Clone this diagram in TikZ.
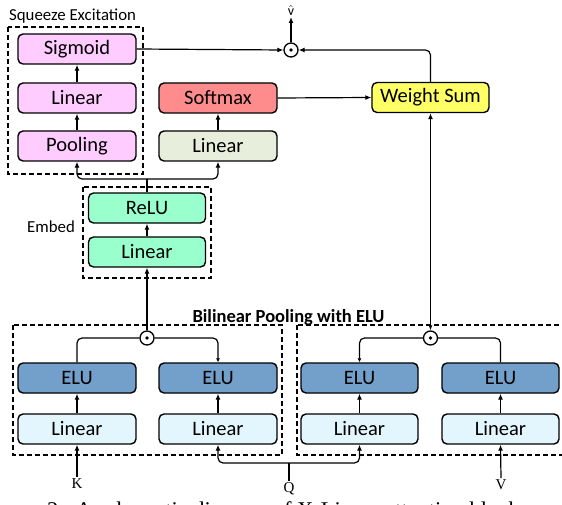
\documentclass[tikz,border=0pt]{standalone}
\usepackage{fontspec}
\setmainfont{Carlito}
\newfontfamily\serifx{Liberation Serif}
\usetikzlibrary{arrows.meta,calc}
\definecolor{sepink}{HTML}{FFCCFF}
\definecolor{softred}{HTML}{FF8C8C}
\definecolor{lingreen}{HTML}{E8EEDC}
\definecolor{mint}{HTML}{99FFCC}
\definecolor{elublue}{HTML}{739FCB}
\definecolor{lincyan}{HTML}{E3F6FD}
\definecolor{wsyellow}{HTML}{FFFF66}
\begin{document}
\begin{tikzpicture}[x=1pt,y=-1pt,
  blk/.style={draw, rounded corners=5pt, line width=1.4pt, minimum width=118pt,
    minimum height=30pt, inner sep=0pt, font=\fontsize{20.5}{24}\selectfont},
  dbox/.style={draw, line width=1.2pt, dash pattern=on 5pt off 3pt},
  odot/.style={draw, circle, line width=1.3pt, minimum size=14pt, inner sep=0pt, fill=white,
    path picture={\fill[black] (path picture bounding box.center) circle (1.8pt);}},
  arr/.style={line width=1.2pt, -{Latex[length=6pt,width=5pt]}},
  ln/.style={line width=1.2pt},
  lbl/.style={font=\serifx\fontsize{15}{18}\selectfont, inner sep=1pt},
  ttl/.style={font=\fontsize{16.8}{20}\selectfont, inner sep=0pt}
]
\useasboundingbox (0,0) rectangle (562,505);
\clip (0,0) rectangle (562,505);

% dashed group frames
\draw[dbox] (8,27) rectangle (143,174);
\draw[dbox] (83,187) rectangle (211,278);
\draw[dbox] (13,325) rectangle (282,455);
\draw[dbox] (297,325) rectangle (566,455);

% titles
\node[ttl, anchor=base west] (tse) at (9,21) {Squeeze Excitation};
\node[ttl, anchor=base west] (temb) at (27,233) {Embed};
\node[anchor=base, inner sep=0pt, font=\bfseries\fontsize{18.5}{22}\selectfont] (tbp) at (288.5,322) {Bilinear Pooling with ELU};

% squeeze excitation
\node[blk, fill=sepink] (sig) at (77,49) {Sigmoid};
\node[blk, fill=sepink] (selin) at (77,98) {Linear};
\node[blk, fill=sepink] (pool) at (77,146) {Pooling};

% attention branch
\node[blk, fill=softred] (soft) at (218,98) {Softmax};
\node[blk, fill=lingreen] (lin) at (218,146) {Linear};
\node[blk, fill=wsyellow, minimum width=117pt] (ws) at (430.5,97.5) {Weight Sum};

% embed
\node[blk, fill=mint, minimum width=117pt] (relu) at (147,208) {ReLU};
\node[blk, fill=mint, minimum width=117pt] (elin) at (147,252) {Linear};

% bilinear pooling
\node[blk, fill=elublue] (elu1) at (77,378) {ELU};
\node[blk, fill=elublue] (elu2) at (218,378) {ELU};
\node[blk, fill=elublue, minimum width=117pt] (elu3) at (359.5,378) {ELU};
\node[blk, fill=elublue, minimum width=117pt] (elu4) at (500.5,378) {ELU};
\node[blk, fill=lincyan] (l1) at (77,429) {Linear};
\node[blk, fill=lincyan] (l2) at (218,429) {Linear};
\node[blk, fill=lincyan, minimum width=117pt] (l3) at (359.5,429) {Linear};
\node[blk, fill=lincyan, minimum width=117pt] (l4) at (500.5,429) {Linear};

% product circles
\node[odot] (ctop) at (291,50) {};
\node[odot] (c1) at (147,338) {};
\node[odot] (c2) at (430.5,338) {};

% inputs and output labels
\node[lbl, anchor=north] (K) at (77,477) {K};
\node[lbl, anchor=north] (Q) at (289,481) {Q};
\node[lbl, anchor=north] (V) at (501,478) {V};
\node[anchor=south, inner sep=1pt, font=\fontsize{14}{14}\selectfont] (vhat) at (291,17) {$\hat{\mathrm{v}}$};

% connectors: top
\draw[arr] (sig.east) -- (ctop.west);
\draw[arr, rounded corners=5pt] (ws.north) |- (ctop.east);
\draw[arr] (ctop.north) -- (vhat.south);
\draw[arr] (soft.east) -- (ws.west);
\draw[arr] (lin.north) -- (soft.south);
\draw[arr] (pool.north) -- (selin.south);
\draw[arr] (selin.north) -- (sig.south);

% embed to SE and attention
\coordinate (jtop) at (147,179);
\draw[ln] (relu.north) -- (jtop);
\draw[arr, rounded corners=5pt] (jtop) -| (pool.south);
\draw[arr, rounded corners=5pt] (jtop) -| (lin.south);
\draw[arr] (elin.north) -- (relu.south);
\draw[arr] (c1.north) -- (elin.south);
\draw[{Latex[length=5pt,width=4pt]}-{Latex[length=6pt,width=5pt]}, line width=1.2pt] (c2.north) -- (ws.south);

% bilinear internals
\draw[ln, rounded corners=5pt] (c1.west) -| (elu1.north);
\draw[line width=1.2pt, -{Latex[length=4pt,width=4pt]}, rounded corners=5pt] (c1.east) -| (elu2.north);
\draw[line width=1.2pt, -{Latex[length=4pt,width=4pt]}, rounded corners=5pt] (c2.west) -| (elu3.north);
\draw[ln, rounded corners=5pt] (c2.east) -| (elu4.north);
\draw[arr] (l1.north) -- (elu1.south);
\draw[arr] (l2.north) -- (elu2.south);
\draw[arr] (l3.north) -- (elu3.south);
\draw[arr] (l4.north) -- (elu4.south);

% inputs
\draw[arr] (K.north) -- (l1.south);
\draw[arr] (V.north) -- (l4.south);
\coordinate (qj) at (289,463);
\draw[ln] (Q.north) -- (qj);
\draw[arr, rounded corners=5pt] (qj) -| (l2.south);
\draw[arr, rounded corners=5pt] (qj) -| (l3.south);

% caption (cut off by the frame, as in the reference)
\node[anchor=base west, inner sep=0pt, font=\serifx\fontsize{22.5}{27}\selectfont] (cap) at (47,517) {2:\ \ A schematic diagram of X-Linear attention block};
\end{tikzpicture}
\end{document}
